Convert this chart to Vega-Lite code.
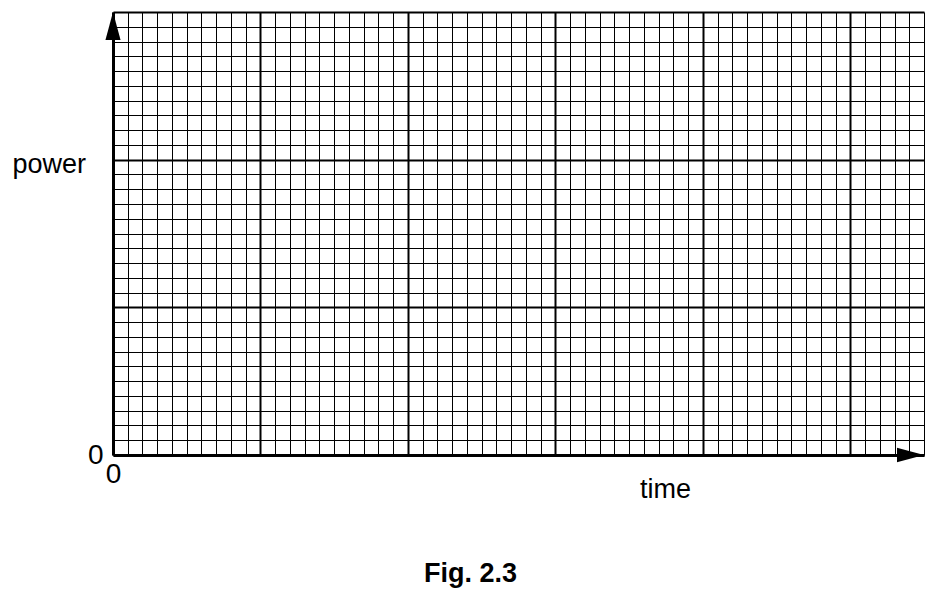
{
  "$schema": "https://vega.github.io/schema/vega-lite/v6.json",
  "autosize": {"type": "none"},
  "padding": {"left": 113, "top": 12, "right": 14, "bottom": 146},
  "width": 811,
  "height": 443,
  "background": "white",
  "title": {
    "text": "Fig. 2.3",
    "orient": "bottom",
    "anchor": "middle",
    "offset": 59,
    "dx": -48,
    "font": "Liberation Sans",
    "fontSize": 27,
    "fontWeight": "bold",
    "color": "black"
  },
  "config": {
    "view": {"stroke": null},
    "axis": {
      "grid": true,
      "gridColor": "black",
      "gridOpacity": 1,
      "gridWidth": {"condition": {"test": "datum.value % 10 === 0", "value": 2}, "value": 1},
      "ticks": false,
      "tickSize": 0,
      "domain": true,
      "domainColor": "black",
      "domainWidth": 3,
      "labelFont": "Liberation Sans",
      "labelFontSize": 28,
      "labelColor": "black",
      "labelExpr": "datum.value === 0 ? '0' : ''",
      "labelOverlap": false,
      "titleFont": "Liberation Sans",
      "titleFontSize": 27,
      "titleFontWeight": "normal",
      "titleColor": "black"
    }
  },
  "data": {
    "values": [
      {"time": 55, "power": 0, "arrow": "x"},
      {"time": 0, "power": 30, "arrow": "y"}
    ]
  },
  "mark": {"type": "point", "filled": true, "opacity": 1, "color": "black", "strokeWidth": 0, "size": 784},
  "encoding": {
    "x": {
      "field": "time",
      "type": "quantitative",
      "scale": {"domain": [0, 55], "nice": false, "zero": true},
      "axis": {
        "values": [0,1,2,3,4,5,6,7,8,9,10,11,12,13,14,15,16,17,18,19,20,21,22,23,24,25,26,27,28,29,30,31,32,33,34,35,36,37,38,39,40,41,42,43,44,45,46,47,48,49,50,51,52,53,54,55],
        "title": "time",
        "titleX": 552,
        "titleY": 42,
        "titleAlign": "center",
        "titleBaseline": "alphabetic",
        "labelPadding": 5,
        "labelDx": -3,
        "labelAlign": "center",
        "labelBaseline": "top"
      }
    },
    "y": {
      "field": "power",
      "type": "quantitative",
      "scale": {"domain": [0, 30], "nice": false, "zero": true},
      "axis": {
        "values": [0,1,2,3,4,5,6,7,8,9,10,11,12,13,14,15,16,17,18,19,20,21,22,23,24,25,26,27,28,29,30],
        "title": "power",
        "titleAngle": 0,
        "titleX": -101,
        "titleY": 160,
        "titleAlign": "left",
        "titleBaseline": "alphabetic",
        "labelPadding": 10,
        "labelDy": 3,
        "labelAlign": "right",
        "labelBaseline": "middle"
      }
    },
    "shape": {
      "field": "arrow",
      "type": "nominal",
      "scale": {"domain": ["x", "y"], "range": ["M0,0L-1.93,-0.52L-1.93,0.52Z", "M0,0L0.54,2L-0.54,2Z"]},
      "legend": null
    }
  }
}
